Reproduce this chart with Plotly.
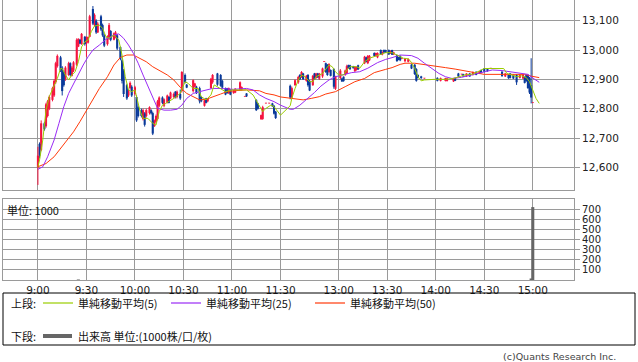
import plotly.graph_objects as go

# ---------------- data ----------------
candle_times = [
    "9:00", "9:01", "9:02", "9:04", "9:05", "9:06", "9:07", "9:09", "9:10", "9:11", "9:12", "9:14", "9:15", "9:16",
    "9:17", "9:19", "9:20", "9:21", "9:22", "9:24", "9:25", "9:26", "9:27", "9:29", "9:30", "9:31", "9:32", "9:34",
    "9:35", "9:36", "9:37", "9:39", "9:40", "9:41", "9:43", "9:44", "9:45", "9:47", "9:48", "9:49", "9:51", "9:52",
    "9:53", "9:55", "9:56", "9:57", "9:58", "10:00", "10:01", "10:02", "10:04", "10:05", "10:06", "10:07", "10:09",
    "10:10", "10:11", "10:12", "10:13", "10:14", "10:15", "10:17", "10:18", "10:20", "10:21", "10:22", "10:24",
    "10:25", "10:26", "10:28", "10:29", "10:31", "10:32", "10:36", "10:37", "10:38", "10:40", "10:41", "10:43",
    "10:44", "10:45", "10:47", "10:48", "10:51", "10:53", "10:54", "10:56", "10:57", "10:58", "10:59", "11:01",
    "11:02", "11:05", "11:06", "11:08", "11:09", "11:15", "11:16", "11:18", "11:19", "11:21", "11:23", "11:25",
    "11:26", "11:27",
    "12:30", "12:31", "12:33", "12:35", "12:36", "12:37", "12:38", "12:40", "12:41", "12:42", "12:44", "12:45",
    "12:46", "12:47", "12:48", "12:50", "12:51", "12:52", "12:53", "12:54", "12:55", "12:57", "12:58", "13:01",
    "13:02", "13:03", "13:04", "13:05", "13:06", "13:07", "13:09", "13:10", "13:11", "13:12", "13:16", "13:17",
    "13:18", "13:19", "13:22", "13:23", "13:24", "13:26", "13:27", "13:28", "13:29", "13:31", "13:32", "13:33",
    "13:34", "13:36", "13:37", "13:38", "13:39", "13:41", "13:43", "13:45", "13:47", "13:48", "13:49", "13:51",
    "13:53", "14:01", "14:03", "14:06", "14:07", "14:11", "14:12", "14:14", "14:16", "14:17", "14:19", "14:21",
    "14:23", "14:25", "14:27", "14:28", "14:30", "14:32", "14:34", "14:41", "14:43", "14:45", "14:46", "14:48",
    "14:50", "14:52", "14:54", "14:55", "14:56", "14:57", "14:58", "14:59", "15:00",
]
opens = [
    12600, 12680, 12660, 12750, 12740, 12775, 12800, 12830, 12845, 12890, 12945, 12975, 12940, 12925,
    12900, 12915, 12955, 12912, 12930, 12950, 13012, 13035, 13020, 13045, 13030, 13025, 13045, 13140,
    13085, 13100, 13060, 13115, 13085, 13050, 13020, 13040, 13065, 13035, 13045, 13050, 13010, 12965,
    12930, 12880, 12845, 12870, 12875, 12850, 12840, 12805, 12795, 12765, 12784, 12775, 12785,
    12795, 12785, 12740, 12755, 12765, 12810, 12838, 12810, 12820, 12840, 12835, 12840,
    12858, 12840, 12850, 12860, 12915, 12882, 12860, 12875, 12875, 12870, 12840, 12810,
    12835, 12825, 12870, 12890, 12920, 12915, 12895, 12870, 12870, 12853, 12865, 12853,
    12855, 12865, 12865, 12841, 12852, 12830, 12818, 12764, 12765, 12818, 12818, 12818,
    12810, 12790,
    12878, 12838, 12880, 12890, 12915, 12910, 12920, 12895, 12915, 12895, 12880, 12920,
    12905, 12920, 12902, 12910, 12960, 12955, 12950, 12925, 12932, 12935, 12868, 12905,
    12903, 12909, 12915, 12920, 12949, 12948, 12945, 12928, 12932, 12948, 12955, 12975,
    12955, 12965, 12990, 12980, 12975, 13000, 12985, 13000, 13000, 13000, 12988, 13000,
    12985, 12983, 12975, 12980, 12970, 12962, 12960, 12950, 12950, 12935, 12915, 12910,
    12903, 12905, 12895, 12895, 12894, 12893, 12905, 12920, 12917, 12918, 12910, 12920,
    12915, 12926, 12920, 12932, 12937, 12937, 12937, 12926, 12910, 12915, 12920, 12915,
    12915, 12905, 12903, 12908, 12915, 12915, 12905, 12880, 12820,
]
highs = [
    12670, 12685, 12760, 12755, 12820, 12830, 12845, 12875, 12900, 12960, 12985, 12980, 12945, 12930,
    12945, 12960, 12958, 12945, 12962, 13040, 13040, 13038, 13058, 13048, 13046, 13046, 13120, 13150,
    13125, 13105, 13095, 13120, 13090, 13055, 13050, 13092, 13068, 13060, 13065, 13055, 13012, 12970,
    12935, 12885, 12865, 12893, 12880, 12878, 12845, 12810, 12800, 12800, 12788, 12800, 12808,
    12798, 12790, 12763, 12780, 12830, 12842, 12842, 12835, 12848, 12843, 12858, 12855,
    12860, 12862, 12865, 12928, 12920, 12884, 12900, 12888, 12878, 12875, 12842, 12830,
    12837, 12836, 12905, 12918, 12922, 12918, 12898, 12872, 12871, 12872, 12866, 12864,
    12870, 12893, 12876, 12842, 12853, 12832, 12820, 12780, 12810, 12819, 12819, 12820,
    12812, 12792,
    12882, 12875, 12900, 12912, 12918, 12928, 12922, 12915, 12918, 12898, 12915, 12922,
    12922, 12922, 12922, 12940, 12961, 12957, 12952, 12955, 12934, 12938, 12912, 12935,
    12905, 12910, 12933, 12950, 12950, 12950, 12946, 12945, 12944, 12950, 12980, 12977,
    12983, 12983, 12992, 12991, 12992, 13002, 12995, 13002, 13001, 13002, 12998, 13001,
    12994, 12985, 12977, 12982, 12971, 12973, 12972, 12952, 12952, 12938, 12917, 12912,
    12904, 12907, 12906, 12905, 12905, 12905, 12906, 12922, 12918, 12919, 12921, 12921,
    12927, 12927, 12928, 12933, 12938, 12938, 12938, 12928, 12921, 12917, 12921, 12917,
    12918, 12918, 12918, 12910, 12917, 12917, 12908, 12972, 12821,
]
lows = [
    12540, 12630, 12655, 12725, 12735, 12770, 12795, 12825, 12840, 12885, 12940, 12925, 12845, 12875,
    12895, 12912, 12910, 12910, 12925, 12945, 13010, 13020, 13018, 13015, 12977, 13022, 13044, 13085,
    13080, 13055, 13058, 13065, 13045, 13010, 13015, 13035, 13030, 13033, 13040, 13000, 12965, 12886,
    12840, 12830, 12840, 12865, 12840, 12845, 12755, 12770, 12770, 12760, 12739, 12770, 12780,
    12780, 12710, 12738, 12750, 12760, 12805, 12815, 12805, 12818, 12818, 12832, 12835,
    12835, 12835, 12830, 12855, 12886, 12870, 12855, 12872, 12850, 12818, 12822, 12807,
    12818, 12822, 12868, 12885, 12878, 12875, 12870, 12846, 12851, 12850, 12846, 12851,
    12853, 12862, 12862, 12840, 12840, 12792, 12797, 12762, 12762, 12817, 12817, 12806,
    12780, 12765,
    12832, 12835, 12878, 12885, 12898, 12905, 12898, 12892, 12875, 12860, 12878, 12898,
    12902, 12905, 12898, 12905, 12959, 12922, 12912, 12922, 12910, 12868, 12864, 12900,
    12891, 12892, 12912, 12918, 12937, 12932, 12937, 12925, 12930, 12932, 12952, 12958,
    12952, 12962, 12978, 12978, 12972, 12983, 12982, 12990, 12990, 12983, 12987, 12983,
    12983, 12960, 12965, 12962, 12969, 12958, 12958, 12935, 12915, 12892, 12903, 12902,
    12902, 12893, 12893, 12893, 12893, 12891, 12894, 12908, 12916, 12909, 12908, 12909,
    12913, 12914, 12918, 12920, 12924, 12926, 12936, 12909, 12908, 12902, 12903, 12901,
    12881, 12903, 12901, 12886, 12892, 12868, 12850, 12818, 12819,
]
closes = [
    12640, 12640, 12750, 12730, 12815, 12825, 12840, 12870, 12895, 12955, 12980, 12930, 12860, 12880,
    12940, 12955, 12915, 12940, 12958, 13035, 13038, 13022, 13055, 13020, 13045, 13044, 13115, 13090,
    13120, 13060, 13090, 13070, 13050, 13015, 13045, 13085, 13035, 13057, 13060, 13005, 12970, 12895,
    12850, 12835, 12860, 12888, 12845, 12873, 12760, 12775, 12775, 12795, 12745, 12795, 12805,
    12784, 12715, 12760, 12775, 12825, 12838, 12820, 12832, 12845, 12820, 12855, 12850,
    12838, 12858, 12835, 12925, 12890, 12872, 12897, 12886, 12853, 12825, 12825, 12828,
    12820, 12834, 12902, 12915, 12882, 12878, 12872, 12848, 12853, 12870, 12848, 12862,
    12868, 12890, 12874, 12841, 12842, 12795, 12800, 12778, 12805, 12818, 12818, 12808,
    12783, 12768,
    12838, 12870, 12897, 12908, 12900, 12925, 12900, 12912, 12880, 12862, 12912, 12900,
    12920, 12907, 12920, 12937, 12960, 12925, 12915, 12952, 12912, 12875, 12908, 12930,
    12893, 12894, 12930, 12945, 12938, 12935, 12938, 12943, 12942, 12934, 12977, 12960,
    12980, 12980, 12980, 12990, 12990, 12985, 12994, 12992, 12991, 12985, 12996, 12984,
    12992, 12962, 12966, 12965, 12970, 12970, 12969, 12937, 12918, 12895, 12905, 12904,
    12903, 12895, 12904, 12904, 12903, 12903, 12895, 12910, 12917, 12910, 12920, 12910,
    12925, 12915, 12927, 12922, 12926, 12928, 12937, 12911, 12920, 12904, 12905, 12903,
    12890, 12915, 12916, 12888, 12894, 12870, 12855, 12838, 12820,
]

ma5_times = [
    "9:00", "9:01", "9:03", "9:05", "9:07", "9:10", "9:12", "9:14", "9:15", "9:17", "9:19", "9:21", "9:23",
    "9:25", "9:27", "9:29", "9:31", "9:33", "9:35", "9:38", "9:40", "9:42", "9:44", "9:47", "9:50", "9:52",
    "9:54", "9:56", "9:58", "10:00", "10:01", "10:03", "10:05", "10:08", "10:11", "10:13", "10:15", "10:17",
    "10:19", "10:24", "10:28", "10:31", "10:33", "10:36", "10:39", "10:41", "10:44", "10:47", "10:49",
    "10:53", "10:56", "11:00", "11:05", "11:09", "11:13", "11:16", "11:19", "11:21", "11:24", "11:26",
    "11:30", "12:30", "12:31", "12:33", "12:35", "12:37", "12:39", "12:42", "12:44", "12:46", "12:48",
    "12:50", "12:54", "12:56", "12:58", "13:00", "13:03", "13:05", "13:07", "13:11", "13:13", "13:16",
    "13:19", "13:22", "13:25", "13:29", "13:33", "13:36", "13:38", "13:40", "13:43", "13:45", "13:47",
    "13:49", "13:51", "13:53", "13:59", "14:06", "14:11", "14:14", "14:18", "14:23", "14:27", "14:30",
    "14:42", "14:44", "14:47", "14:50", "14:53", "14:56", "14:58", "15:00", "15:02", "15:04",
]
ma5_values = [
    12602, 12625, 12693, 12795, 12841, 12875, 12903, 12937, 12937, 12915, 12898, 12915, 12926,
    12960, 13011, 13028, 13034, 13063, 13082, 13085, 13074, 13046, 13040, 13051, 13034, 12983,
    12909, 12864, 12858, 12864, 12841, 12795, 12767, 12767, 12750, 12744, 12790, 12812,
    12818, 12835, 12852, 12892, 12886, 12869, 12869, 12841, 12830, 12847, 12881,
    12869, 12858, 12864, 12864, 12864, 12847, 12818, 12790, 12801, 12812, 12807,
    12778, 12810, 12835, 12869, 12898, 12915, 12909, 12892, 12892, 12909, 12915,
    12920, 12949, 12943, 12926, 12915, 12915, 12932, 12943, 12943, 12938, 12960,
    12972, 12977, 12983, 12991, 12991, 12983, 12977, 12972, 12970, 12958, 12937,
    12909, 12895, 12898, 12900, 12900, 12903, 12909, 12915, 12918, 12928, 12937,
    12937, 12920, 12915, 12909, 12912, 12906, 12892, 12864, 12835, 12818,
]

ma25_times = [
    "9:00", "9:03", "9:06", "9:10", "9:13", "9:16", "9:19", "9:22", "9:25", "9:28", "9:31", "9:34", "9:38",
    "9:42", "9:47", "9:50", "9:53", "9:56", "9:59", "10:02", "10:05", "10:08", "10:11", "10:14", "10:18",
    "10:22", "10:26", "10:29", "10:32", "10:36", "10:40", "10:44", "10:48", "10:53", "11:01", "11:09",
    "11:13", "11:17", "11:21", "11:26", "11:30", "12:30", "12:32", "12:36", "12:41", "12:45", "12:49",
    "12:54", "12:58", "13:03", "13:08", "13:13", "13:18", "13:24", "13:29", "13:33", "13:38", "13:45",
    "13:49", "13:53", "13:58", "14:02", "14:06", "14:10", "14:16", "14:22", "14:28", "14:35", "14:41",
    "14:47", "14:53", "14:57", "15:01", "15:04",
]
ma25_values = [
    12593, 12602, 12636, 12693, 12750, 12807, 12852, 12886, 12920, 12949, 12977, 13000, 13017,
    13036, 13051, 13055, 13040, 13017, 12989, 12955, 12915, 12875, 12835, 12801, 12795,
    12795, 12798, 12812, 12835, 12852, 12858, 12864, 12869, 12869, 12866, 12869,
    12864, 12847, 12835, 12824, 12812, 12798, 12798, 12812, 12835, 12855, 12877,
    12898, 12909, 12915, 12923, 12926, 12938, 12957, 12968, 12974, 12983, 12981,
    12972, 12955, 12937, 12920, 12909, 12903, 12907, 12915, 12924, 12932, 12930,
    12926, 12920, 12917, 12901, 12890,
]

ma50_times = [
    "9:00", "9:05", "9:10", "9:14", "9:18", "9:22", "9:26", "9:30", "9:34", "9:38", "9:43", "9:47", "9:51",
    "9:55", "9:59", "10:03", "10:07", "10:11", "10:15", "10:20", "10:24", "10:28", "10:32", "10:36",
    "10:40", "10:44", "10:48", "10:53", "10:57", "11:01", "11:09", "11:17", "11:21", "11:26", "11:30",
    "12:32", "12:38", "12:43", "12:48", "12:52", "12:58", "13:04", "13:10", "13:16", "13:22", "13:29",
    "13:33", "13:38", "13:41", "13:47", "13:53", "14:00", "14:06", "14:12", "14:18", "14:24", "14:30",
    "14:37", "14:43", "14:49", "14:55", "14:59", "15:04",
]
ma50_values = [
    12602, 12613, 12636, 12665, 12693, 12721, 12756, 12795, 12835, 12869, 12909, 12949, 12975,
    12983, 12983, 12972, 12960, 12943, 12930, 12915, 12898, 12873, 12852, 12841,
    12830, 12832, 12841, 12850, 12858, 12861, 12864, 12861, 12852, 12847, 12840,
    12833, 12830, 12835, 12841, 12850, 12858, 12875, 12892, 12903, 12923, 12934,
    12940, 12951, 12955, 12955, 12951, 12945, 12940, 12935, 12928, 12923, 12917,
    12917, 12917, 12918, 12917, 12911, 12906,
]

volume_times = ["9:25", "14:59", "15:00"]
volume_values = [5, 15, 720]

time_tick_labels = ["9:00", "9:30", "10:00", "10:30", "11:00", "11:30", "13:00", "13:30", "14:00", "14:30", "15:00"]
price_ticks = [12600, 12700, 12800, 12900, 13000, 13100]
volume_ticks = [100, 200, 300, 400, 500, 600, 700]

legend_labels = ["単純移動平均(5)", "単純移動平均(25)", "単純移動平均(50)"]
volume_legend_label = "出来高 単位:(1000株/口/枚)"

# ---------------- styling ----------------
RED = "#F5143F"
BLUE = "#0B3A9A"
C_MA5 = "#9ACD00"
C_MA25 = "#9A2BF5"
C_MA50 = "#FF3A0A"
GRID = "#9A9A9A"
JP = "Noto Sans CJK JP"
NUM = "DejaVu Sans"


def session_pos(t):
    """Session-axis position: minutes since 9:00, lunch break compressed."""
    h, m = (int(p) for p in t.split(":"))
    mins = h * 60 + m - 540
    if mins > 150:
        mins -= 54
    return mins


cx = [session_pos(t) for t in candle_times]
up_x, up_base, up_h, dn_x, dn_base, dn_h = [], [], [], [], [], []
up_wx, up_wy, dn_wx, dn_wy = [], [], [], []
for x, o, h, l, c in zip(cx, opens, highs, lows, closes):
    body = max(abs(c - o), 2.5)
    if c >= o:
        up_x.append(x); up_base.append(min(o, c)); up_h.append(body)
        up_wx += [x, x, None]; up_wy += [l, h, None]
    else:
        dn_x.append(x); dn_base.append(min(o, c)); dn_h.append(body)
        dn_wx += [x, x, None]; dn_wy += [l, h, None]

fig = go.Figure()
fig.add_trace(go.Scatter(x=up_wx, y=up_wy, mode="lines", line=dict(color=RED, width=1), hoverinfo="skip"))
fig.add_trace(go.Scatter(x=dn_wx, y=dn_wy, mode="lines", line=dict(color=BLUE, width=1), hoverinfo="skip"))
fig.add_trace(go.Bar(x=up_x, y=up_h, base=up_base, width=1.3, marker=dict(color=RED, line=dict(width=0))))
fig.add_trace(go.Bar(x=dn_x, y=dn_h, base=dn_base, width=1.3, marker=dict(color=BLUE, line=dict(width=0))))

for times, vals, col in [(ma50_times, ma50_values, C_MA50),
                         (ma25_times, ma25_values, C_MA25),
                         (ma5_times, ma5_values, C_MA5)]:
    fig.add_trace(go.Scatter(x=[session_pos(t) for t in times], y=vals, mode="lines",
                             line=dict(color=col, width=1), hoverinfo="skip"))

fig.add_trace(go.Bar(x=[session_pos(t) for t in volume_times], y=volume_values, width=1.9,
                     marker=dict(color="#666666", line=dict(width=0)), xaxis="x2", yaxis="y2"))

tick_pos = [session_pos(t) for t in time_tick_labels]

# pixel geometry helpers (plot area: x 3..574, y 0..280)
L, R, T, B = 3, 64, 0, 82
PW, PH = 638 - L - R, 362 - T - B


def px(xp):
    return (xp - L) / PW


def py(yp):
    return (PH - (yp - T)) / PH


xr = [-21.6, 331.5]
common_x = dict(range=xr, tickvals=tick_pos, showgrid=True, gridcolor=GRID, gridwidth=1,
                zeroline=False, showline=True, linecolor=GRID, linewidth=1, mirror=True, fixedrange=True)
fig.update_layout(
    width=638, height=362,
    margin=dict(l=L, r=R, t=T, b=B),
    paper_bgcolor="white", plot_bgcolor="white",
    showlegend=False, barmode="overlay", hovermode=False,
    xaxis=dict(domain=[0, 1], anchor="y", showticklabels=False, ticks="", **common_x),
    yaxis=dict(domain=[py(190), 1], range=[12522.7, 13170.6], side="right", tickvals=price_ticks,
               tickformat=",", ticks="outside", ticklen=5, tickcolor=GRID,
               tickfont=dict(family=NUM, size=10.5, color="#222"),
               showgrid=True, gridcolor=GRID, zeroline=False, showline=True, linecolor=GRID, mirror=True),
    xaxis2=dict(domain=[0, 1], anchor="y2", matches="x", showticklabels=True, ticks="",
                ticktext=time_tick_labels, tickfont=dict(family=NUM, size=10.5, color="#222"), **common_x),
    yaxis2=dict(domain=[0, py(199)], range=[0, 800], side="right", tickvals=volume_ticks,
                ticks="outside", ticklen=5, tickcolor=GRID,
                tickfont=dict(family=NUM, size=10, color="#222"),
                showgrid=True, gridcolor=GRID, zeroline=False, showline=True, linecolor=GRID, mirror=True),
)

ann = []
shapes = []


def note(text, xp, yp, anchor="left", font=None):
    ann.append(dict(text=text, x=px(xp), y=py(yp), xref="paper", yref="paper", xanchor=anchor,
                    yanchor="middle", showarrow=False, borderpad=0,
                    font=font or dict(family=JP, size=11, color="#111")))


note("単位: 1000", 6, 210)

# legend box
shapes.append(dict(type="rect", xref="paper", yref="paper", x0=px(3), x1=px(635), y0=py(293), y1=py(345),
                   line=dict(color="#000", width=1), fillcolor="rgba(0,0,0,0)"))
row1, row2 = 303, 336
note("上段:", 10, row1)
note("下段:", 10, row2)
for (x0, x1, tx), lab, col in zip([(43, 73, 77), (171, 201, 205), (315, 345, 349)], legend_labels,
                                  [C_MA5, C_MA25, C_MA50]):
    shapes.append(dict(type="line", xref="paper", yref="paper", x0=px(x0), x1=px(x1), y0=py(row1), y1=py(row1),
                       line=dict(color=col, width=1.2)))
    note(lab, tx, row1)
shapes.append(dict(type="line", xref="paper", yref="paper", x0=px(43), x1=px(72), y0=py(row2), y1=py(row2),
                   line=dict(color="#666", width=4)))
note(volume_legend_label, 77, row2)
note("(c)Quants Research Inc.", 617, 356, anchor="right", font=dict(family=NUM, size=9.5, color="#444"))

fig.update_layout(annotations=ann, shapes=shapes)
fig.write_html("out.html", config={"displayModeBar": False, "staticPlot": True},
               post_script="document.body.style.margin='0';document.body.style.padding='0';")
